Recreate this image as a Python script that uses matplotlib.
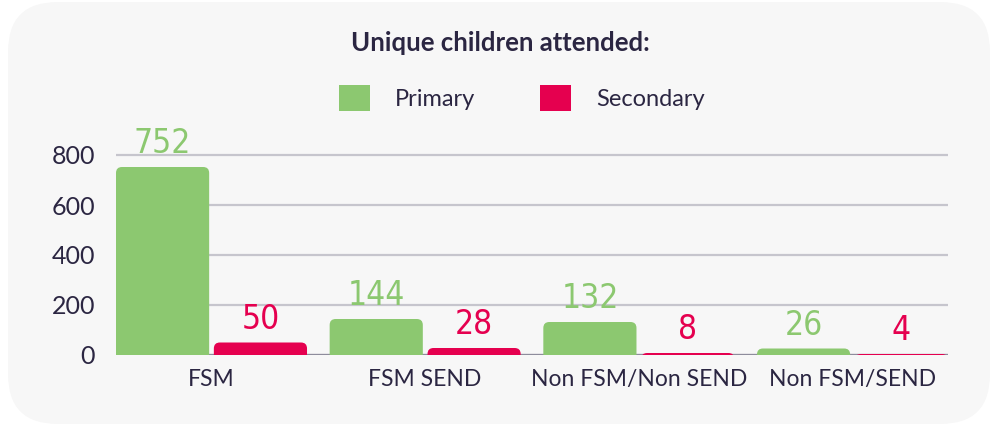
"""Unique children attended: Primary vs Secondary, by FSM / SEND group."""

import matplotlib

matplotlib.use("Agg")
import matplotlib.pyplot as plt
import numpy as np
from matplotlib.patches import FancyBboxPatch, Patch

categories = ["FSM", "FSM SEND", "Non FSM/Non SEND", "Non FSM/SEND"]
primary = [752, 144, 132, 26]
secondary = [50, 28, 8, 4]
series_names = ["Primary", "Secondary"]
y_ticks = [0, 200, 400, 600, 800]

GREEN = "#8cc870"
RED = "#e5004f"
INK = "#2b2642"
PANEL = "#f7f7f7"

W, H, DPI = 994, 428, 100
plt.rcParams["font.family"] = ["Lato", "DejaVu Sans"]

fig = plt.figure(figsize=(W / DPI, H / DPI), dpi=DPI)
fig.patch.set_facecolor("white")

# rounded panel behind everything (pixel coords -> figure fraction)
panel = FancyBboxPatch(
    (8 / W, 4 / H), 982 / W, 422 / H,
    boxstyle="round,pad=0,rounding_size=0.05",
    transform=fig.transFigure, facecolor=PANEL, edgecolor="none",
    mutation_aspect=W / H, zorder=-5,
)
fig.patches.append(panel)

ax = fig.add_axes([116 / W, 73 / H, 832 / W, (355 - 142.5) / H])
ax.set_facecolor("none")
for s in ax.spines.values():
    s.set_visible(False)

x = np.arange(len(categories))
bw = 0.436
off = 0.229
ymax = 850
ax.set_xlim(-0.447, len(categories) - 1 + 0.447)
ax.set_ylim(0, ymax)

ax.set_yticks(y_ticks)
ax.set_yticklabels([str(v) for v in y_ticks], fontsize=18, color=INK)
ax.yaxis.grid(True, color="#c6c5cd", linewidth=1.6)
ax.set_axisbelow(True)
ax.axhline(0, color="#8e8c9c", linewidth=1.6, zorder=1)
ax.tick_params(axis="y", length=0, pad=15)
ax.set_xticks(x)
ax.set_xticklabels(categories, fontsize=16.5, color=INK)
ax.tick_params(axis="x", length=0, pad=10)

# size of one pixel in data units, used for corner rounding
px_x = (ax.get_xlim()[1] - ax.get_xlim()[0]) / 832
px_y = ymax / (355 - 142.5)
r = 6


def rounded_bars(xs, vals, color):
    bars = ax.bar(xs, vals, width=bw, color=color, zorder=2)
    for b in bars:
        bx, bwid, bh = b.get_x(), b.get_width(), b.get_height()
        b.remove()
        patch = FancyBboxPatch(
            (bx, -2 * r * px_y), bwid, bh + 2 * r * px_y,
            boxstyle=f"round,pad=0,rounding_size={r * px_x}",
            mutation_aspect=px_y / px_x,
            facecolor=color, edgecolor="none", zorder=2, clip_on=True,
        )
        ax.add_patch(patch)
    return bars


rounded_bars(x - off, primary, GREEN)
rounded_bars(x + off, secondary, RED)

for xs, vals, color in [(x - off, primary, GREEN), (x + off, secondary, RED)]:
    for xi, v in zip(xs, vals):
        ax.annotate(
            str(v), (xi, v), xytext=(0, 5), textcoords="offset points",
            ha="center", va="bottom", fontsize=24, color=color,
            family=["DejaVu Sans"], fontstretch="condensed", fontweight="light",
        )

fig.text(0.503, 1 - 43 / H, "Unique children attended:", ha="center", va="center",
         fontsize=18.5, fontweight="bold", color=INK)

handles = [Patch(facecolor=GREEN, edgecolor="none"), Patch(facecolor=RED, edgecolor="none")]
fig.legend(
    handles, series_names, loc="center", bbox_to_anchor=(522 / W, 1 - 98 / H),
    ncol=2, frameon=False, fontsize=17, labelcolor=INK,
    handlelength=1.31, handleheight=1.31, handletextpad=1.06, columnspacing=2.75,
)

fig.savefig("out.png", dpi=DPI, facecolor=fig.get_facecolor())
